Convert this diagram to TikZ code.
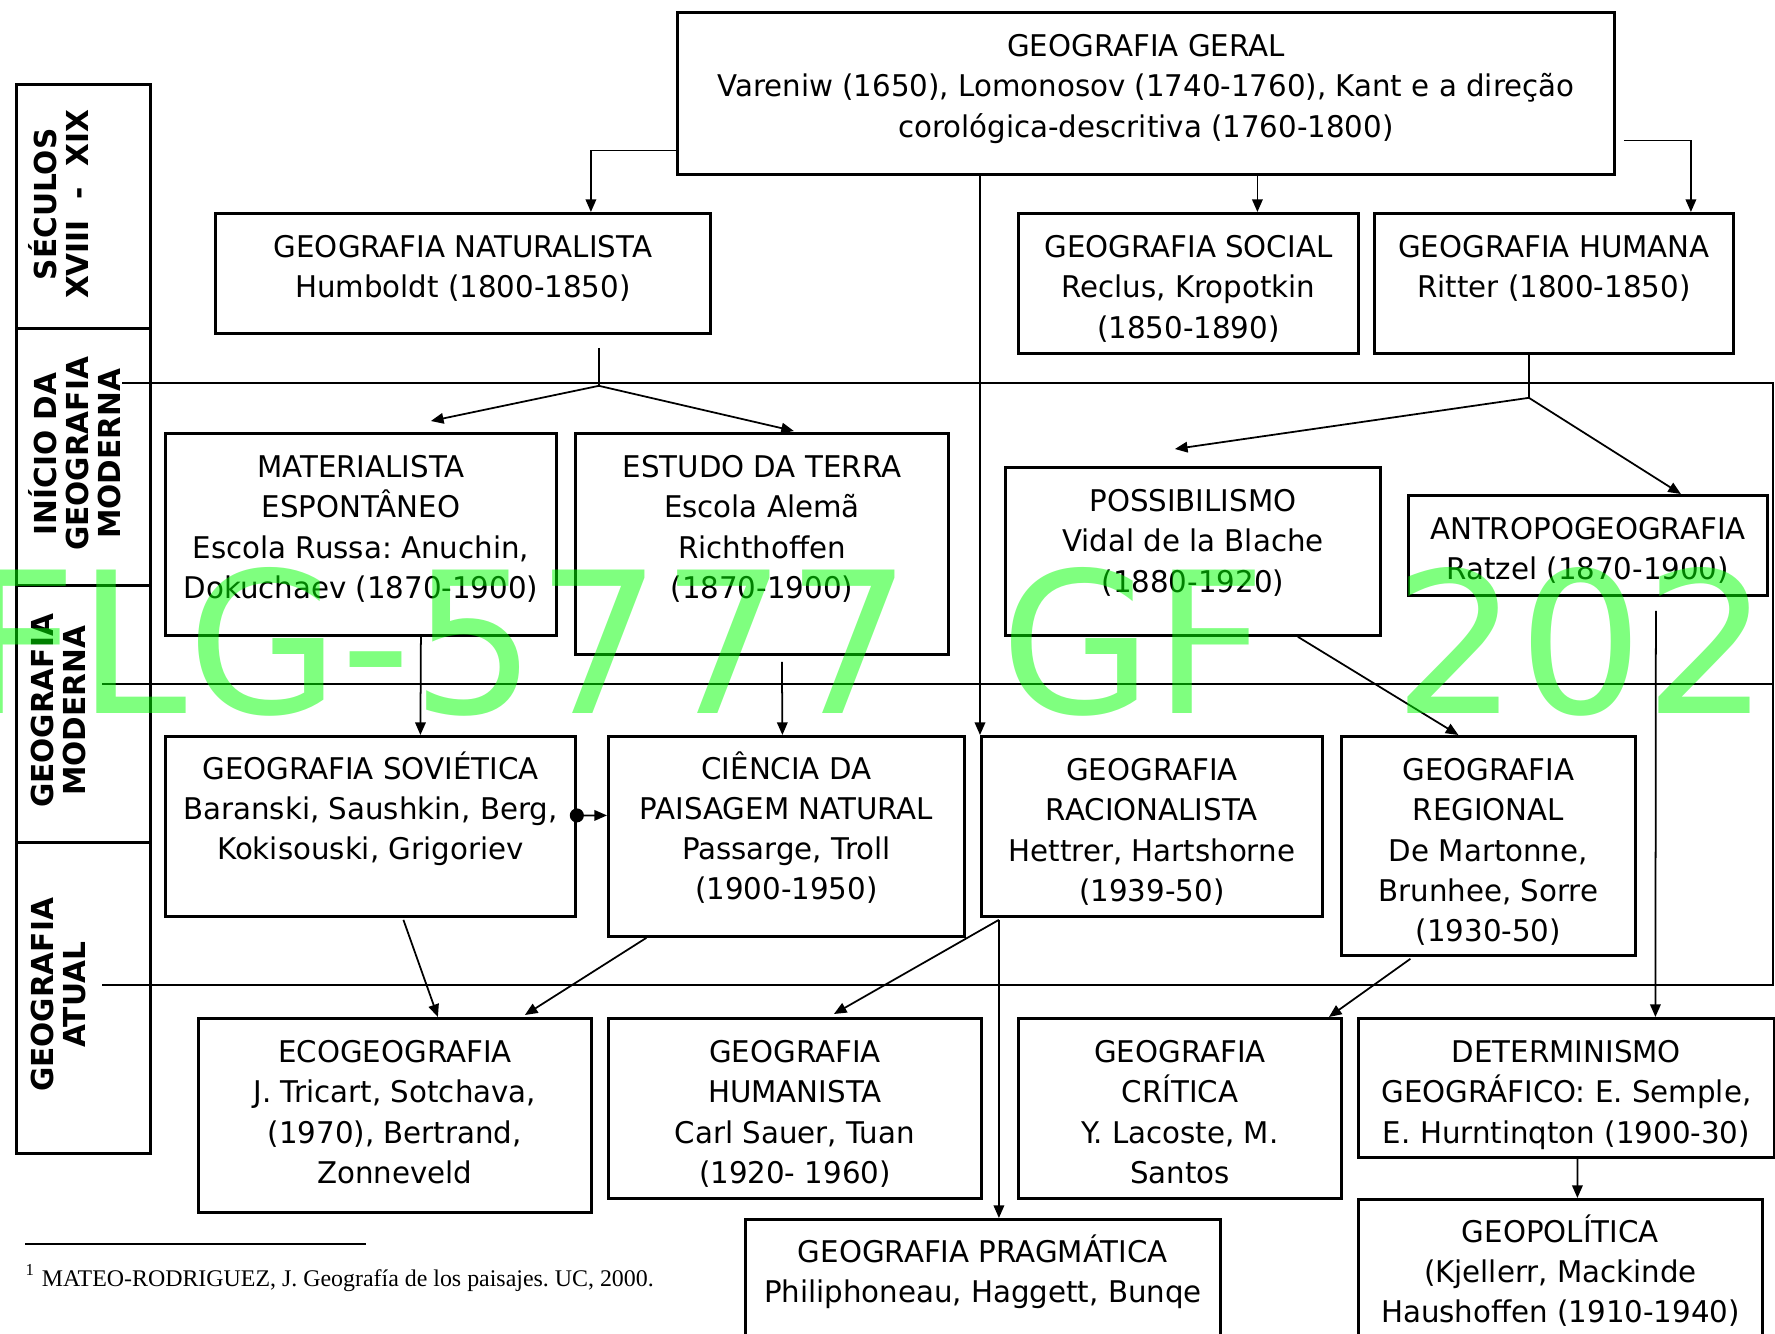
\documentclass[tikz,border=0pt]{standalone}
\usepackage{fontspec}
\setmainfont{DejaVu Sans}[FakeStretch=0.98]
\newfontfamily\footfont{Liberation Serif}
\newfontfamily\markfont{DejaVu Sans}
\usetikzlibrary{positioning,calc,arrows.meta}
\frenchspacing

\tikzset{
  blk/.style={draw, line width=0.8pt, fill=white, anchor=north west, inner sep=0pt},
  txt/.style={anchor=north, yshift=-0.23cm, inner sep=0pt, align=center,
    font=\fontsize{8.5}{11.4}\selectfont},
  txta/.style={txt, yshift=0.07cm}, % first line carries an accent
  era/.style={rotate=90, align=center, inner sep=0pt,
    font=\bfseries\fontsize{8.6}{9.1}\selectfont},
  arr/.style={line width=0.5pt, -{Triangle[length=3.6pt,width=3pt]}},
  link/.style={line width=0.5pt},
  wmark/.style={anchor=base west, inner sep=0pt, text=green, text opacity=0.5,
    font=\markfont\fontsize{56}{56}\selectfont}
}

\begin{document}
\begin{tikzpicture}
    \useasboundingbox (0,0) rectangle (17.75,-13.33);
    \clip (0,0) rectangle (17.75,-13.33);

    % periods column
    \node [blk, minimum width=1.34cm, minimum height=2.44cm] (sec) at (0.15,-0.83) {};
    \node [blk, minimum width=1.34cm, minimum height=2.57cm] (ini) at (0.15,-3.27) {};
    \node [blk, minimum width=1.34cm, minimum height=2.57cm] (mod) at (0.15,-5.84) {};
    \node [blk, minimum width=1.34cm, minimum height=3.11cm] (atu) at (0.15,-8.41) {};
    \node [era] (sec-t) at ($(sec.center)+(-0.25,0.02)$) {SÉCULOS\\XVIII~~-~~XIX};
    \node [era] (ini-t) at ($(ini.center)+(-0.09,0.03)$) {INÍCIO DA\\GEOGRAFIA\\MODERNA};
    \node [era] (mod-t) at ($(mod.center)+(-0.25,0.03)$) {GEOGRAFIA\\MODERNA};
    \node [era] (atu-t) at ($(atu.center)+(-0.25,0.03)$) {GEOGRAFIA\\ATUAL};

    % period bands
    \draw [line width=0.8pt] (1.22,-3.83) -- (17.73,-3.83) -- (17.73,-9.85) -- (1.02,-9.85);
    \draw [line width=0.8pt] (1.02,-6.84) -- (17.73,-6.84);

    % top row
    \node [blk, minimum width=9.37cm, minimum height=1.62cm,
      label={[txt]north:GEOGRAFIA GERAL\\Vareniw (1650), Lomonosov (1740-1760), Kant e a direção\\corológica-descritiva (1760-1800)}]
      (geral) at (6.76,-0.11) {};
    \node [blk, minimum width=4.95cm, minimum height=1.20cm,
      label={[txt]north:GEOGRAFIA NATURALISTA\\Humboldt (1800-1850)}]
      (naturalista) at (2.14,-2.12) {};
    \node [blk, minimum width=3.40cm, minimum height=1.40cm,
      label={[txt]north:GEOGRAFIA SOCIAL\\Reclus, Kropotkin\\(1850-1890)}]
      (social) at (10.17,-2.12) {};
    \node [blk, minimum width=3.59cm, minimum height=1.40cm,
      label={[txt]north:GEOGRAFIA HUMANA\\Ritter (1800-1850)}]
      (humana) at (13.73,-2.12) {};

    % beginning of modern geography
    \node [blk, minimum width=3.91cm, minimum height=2.02cm,
      label={[txt]north:MATERIALISTA\\ESPONTÂNEO\\Escola Russa: Anuchin,\\Dokuchaev (1870-1900)}]
      (materialista) at (1.64,-4.32) {};
    \node [blk, minimum width=3.73cm, minimum height=2.21cm,
      label={[txt]north:ESTUDO DA TERRA\\Escola Alemã\\Richthoffen\\(1870-1900)}]
      (estudo) at (5.74,-4.32) {};
    \node [blk, minimum width=3.75cm, minimum height=1.68cm,
      label={[txt]north:POSSIBILISMO\\Vidal de la Blache\\(1880-1920)}]
      (possibilismo) at (10.04,-4.66) {};
    \node [blk, minimum width=3.59cm, minimum height=1.00cm,
      label={[txt]north:ANTROPOGEOGRAFIA\\Ratzel (1870-1900)}]
      (antropo) at (14.07,-4.94) {};

    % modern geography
    \node [blk, minimum width=4.10cm, minimum height=1.80cm,
      label={[txta]north:GEOGRAFIA SOVIÉTICA\\Baranski, Saushkin, Berg,\\Kokisouski, Grigoriev}]
      (sovietica) at (1.64,-7.35) {};
    \node [blk, minimum width=3.56cm, minimum height=2.00cm,
      label={[txta]north:CIÊNCIA DA\\PAISAGEM NATURAL\\Passarge, Troll\\(1900-1950)}]
      (ciencia) at (6.07,-7.35) {};
    \node [blk, minimum width=3.41cm, minimum height=1.80cm,
      label={[txt]north:GEOGRAFIA\\RACIONALISTA\\Hettrer, Hartshorne\\(1939-50)}]
      (racionalista) at (9.80,-7.35) {};
    \node [blk, minimum width=2.94cm, minimum height=2.19cm,
      label={[txt]north:GEOGRAFIA\\REGIONAL\\De Martonne,\\Brunhee, Sorre\\(1930-50)}]
      (regional) at (13.40,-7.35) {};

    % present-day geography
    \node [blk, minimum width=3.93cm, minimum height=1.94cm,
      label={[txt]north:ECOGEOGRAFIA\\J. Tricart, Sotchava,\\(1970), Bertrand,\\Zonneveld}]
      (eco) at (1.97,-10.17) {};
    \node [blk, minimum width=3.73cm, minimum height=1.80cm,
      label={[txt]north:GEOGRAFIA\\HUMANISTA\\Carl Sauer, Tuan\\(1920- 1960)}]
      (humanista) at (6.07,-10.17) {};
    \node [blk, minimum width=3.23cm, minimum height=1.80cm,
      label={[txt]north:GEOGRAFIA\\CRÍTICA\\Y. Lacoste, M.\\Santos}]
      (critica) at (10.17,-10.17) {};
    \node [blk, minimum width=4.16cm, minimum height=1.39cm,
      label={[txt]north:DETERMINISMO\\GEOGRÁFICO: E. Semple,\\E. Hurntinqton (1900-30)}]
      (determinismo) at (13.57,-10.17) {};
    \node [blk, minimum width=4.75cm, minimum height=2.00cm,
      label={[txta]north:GEOGRAFIA PRAGMÁTICA\\Philiphoneau, Haggett, Bunqe}]
      (pragmatica) at (7.44,-12.18) {};
    \node [blk, minimum width=4.04cm, minimum height=2.00cm,
      label={[txta]north:GEOPOLÍTICA\\(Kjellerr, Mackinde\\Haushoffen (1910-1940)}]
      (geopolitica) at (13.57,-11.98) {};

    % links from the general geography
    \draw [arr] ([yshift=-0.57cm]geral.west) -| ([xshift=1.28cm]naturalista.north);
    \draw [arr] (geral.south -| racionalista.west) -- (racionalista.north west);
    \draw [arr] ($(social.north)+(0.69,0.39)$) -- ($(social.north)+(0.69,0)$);
    \draw [arr] ([xshift=0.08cm,yshift=-0.47cm]geral.east) -| ([xshift=1.37cm]humana.north);

    % splits into the modern schools
    \coordinate (natsplit) at ($(naturalista.south)+(1.36,-0.51)$);
    \draw [link] ($(naturalista.south)+(1.36,-0.13)$) -- (natsplit);
    \draw [arr] (natsplit) -- ($(materialista.north)+(0.70,0.11)$);
    \draw [arr] (natsplit) -- ($(estudo.north)+(0.32,0.01)$);
    \coordinate (humsplit) at ($(humana.south)+(-0.25,-0.43)$);
    \draw [link] ($(humana.south)+(-0.25,0)$) -- (humsplit);
    \draw [arr] (humsplit) -- ($(possibilismo.north)+(-0.18,0.17)$);
    \draw [arr] (humsplit) -- ($(antropo.north)+(0.93,0)$);

    \draw [arr] ($(materialista.south)+(0.60,0)$) -- ($(sovietica.north)+(0.50,0)$);
    \draw [arr] ($(estudo.south)+(0.20,-0.06)$) -- ($(ciencia.north)+(-0.04,0)$);
    \draw [arr] ($(possibilismo.south)+(1.05,0)$) -- ($(regional.north)+(-0.30,0)$);
    \draw [arr] ($(antropo.south)+(0.68,-0.14)$) -- ($(determinismo.north)+(0.89,0)$);
    \draw [line width=0.5pt, {Circle[length=4pt]}-{Triangle[length=3.6pt,width=3pt]}]
      ($(sovietica.east)+(-0.07,0.11)$) -- ($(ciencia.west)+(0,0.21)$);

    % towards present-day geography
    \draw [arr] ($(sovietica.south)+(0.33,-0.02)$) -- ($(eco.north)+(0.43,0)$);
    \draw [arr] ($(ciencia.south)+(-1.40,0)$) -- ($(eco.north)+(1.30,0.02)$);
    \draw [arr] ($(racionalista.south)+(-1.53,-0.02)$) -- ($(humanista.north)+(0.39,0.03)$);
    \draw [arr] ($(racionalista.south)+(-1.53,-0.02)$) -- ($(pragmatica.north)+(0.16,0)$);
    \draw [arr] ($(regional.south)+(-0.78,-0.02)$) -- ($(critica.north)+(1.49,0)$);
    \draw [arr] ($(determinismo.south)+(0.11,0)$) -- ($(geopolitica.north)+(0.17,0)$);

    % footnote
    \draw [line width=0.5pt] (0.25,-12.44) -- (3.66,-12.44);
    \node [anchor=base west, inner sep=0pt, font=\footfont\fontsize{6.8}{8}\selectfont]
      (fonte) at (0.25,-12.86) {\textsuperscript{1} MATEO-RODRIGUEZ, J. Geografía de los paisajes. UC, 2000.};

    % watermark
    \node [wmark] (wm-a) at (-0.36,-7.13) {FLG-5777};
    \node [wmark] (wm-b) at (10.00,-7.13) {GF};
    \node [wmark] (wm-c) at (13.93,-7.13) {2022};
\end{tikzpicture}
\end{document}
